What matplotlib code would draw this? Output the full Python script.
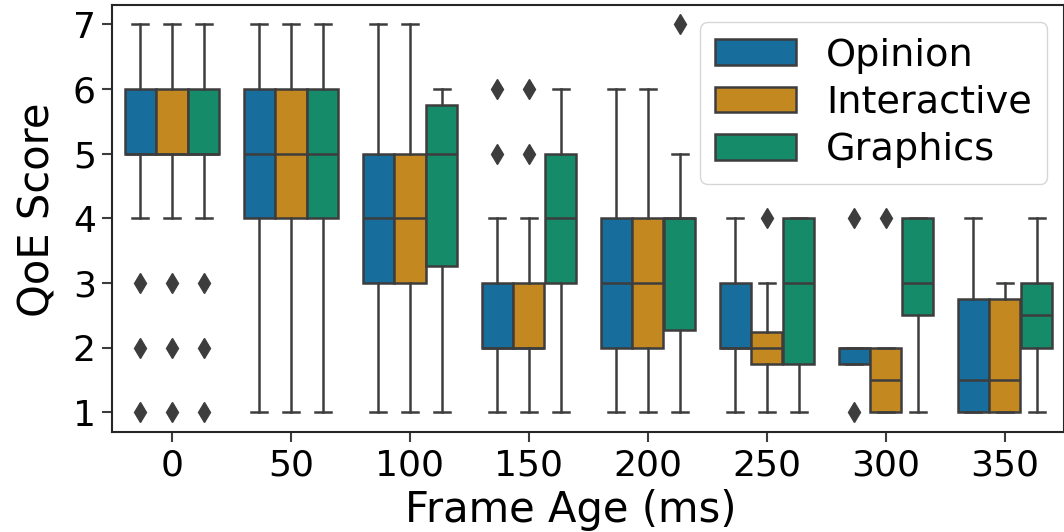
import colorsys

import matplotlib
matplotlib.use("Agg")
import matplotlib.pyplot as plt
from matplotlib.patches import Patch

# 箱线图统计量
frame_ages = ["0", "50", "100", "150", "200", "250", "300", "350"]
groups = ["Opinion", "Interactive", "Graphics"]

opinion_q1 = [5, 4, 3, 2, 2, 2, 1.75, 1]
opinion_med = [5, 5, 4, 2, 3, 2, 2, 1.5]
opinion_q3 = [6, 6, 5, 3, 4, 3, 2, 2.75]
opinion_lo = [4, 1, 1, 1, 1, 1, 1.75, 1]
opinion_hi = [7, 7, 7, 4, 6, 4, 2, 4]
opinion_fliers = [[1, 2, 3], [], [], [5, 6], [], [], [1, 4], []]

interactive_q1 = [5, 4, 3, 2, 2, 1.75, 1, 1]
interactive_med = [5, 5, 4, 2, 3, 2, 1.5, 1.5]
interactive_q3 = [6, 6, 5, 3, 4, 2.25, 2, 2.75]
interactive_lo = [4, 1, 1, 1, 1, 1, 1, 1]
interactive_hi = [7, 7, 7, 4, 6, 3, 2, 3]
interactive_fliers = [[1, 2, 3], [], [], [5, 6], [], [4], [4], []]

graphics_q1 = [5, 4, 3.27, 3, 2.27, 1.75, 2.5, 2]
graphics_med = [5, 5, 5, 4, 4, 3, 3, 2.5]
graphics_q3 = [6, 6, 5.75, 5, 4, 4, 4, 3]
graphics_lo = [4, 1, 1, 1, 1, 1, 1, 1]
graphics_hi = [7, 7, 6, 6, 5, 4, 4, 4]
graphics_fliers = [[1, 2, 3], [], [], [], [7], [], [], []]

stats_by_group = [
    (opinion_q1, opinion_med, opinion_q3, opinion_lo, opinion_hi, opinion_fliers),
    (interactive_q1, interactive_med, interactive_q3, interactive_lo, interactive_hi, interactive_fliers),
    (graphics_q1, graphics_med, graphics_q3, graphics_lo, graphics_hi, graphics_fliers),
]


def desaturate(hex_color, prop=0.75):
    r, g, b = matplotlib.colors.to_rgb(hex_color)
    h, l, s = colorsys.rgb_to_hls(r, g, b)
    return colorsys.hls_to_rgb(h, l, s * prop)


colors = [desaturate(c) for c in ["#0173B2", "#DE8F05", "#029E73"]]
gray = "#3d3d3d"

fig = plt.figure(figsize=(10.64, 5.32), dpi=100)
ax = fig.add_axes([0.1057, 0.1885, 0.8947, 0.802])

n = len(groups)
box_w = 0.8 / n
lw = 1.8
for gi, (q1, med, q3, lo, hi, fl) in enumerate(stats_by_group):
    offset = (gi - (n - 1) / 2) * box_w
    bstats = []
    for i in range(len(frame_ages)):
        bstats.append(dict(q1=q1[i], med=med[i], q3=q3[i],
                           whislo=lo[i], whishi=hi[i], fliers=fl[i]))
    pos = [i + offset for i in range(len(frame_ages))]
    ax.bxp(bstats, positions=pos, widths=box_w * 0.98, patch_artist=True,
           showfliers=True, manage_ticks=False,
           boxprops=dict(facecolor=colors[gi], edgecolor=gray, linewidth=lw),
           medianprops=dict(color=gray, linewidth=lw),
           whiskerprops=dict(color=gray, linewidth=lw),
           capprops=dict(color=gray, linewidth=lw),
           capwidths=box_w * 0.5,
           flierprops=dict(marker="d", markerfacecolor=gray, markeredgecolor=gray,
                           markersize=10, linestyle="none"))

ax.set_xlim(-0.5, len(frame_ages) - 0.5)
ax.set_ylim(0.7, 7.3)
ax.set_xticks(range(len(frame_ages)))
ax.set_xticklabels(frame_ages)
ax.set_yticks(range(1, 8))

ax.tick_params(labelsize=26, length=7, width=1.5, pad=5, color=gray)
for sp in ax.spines.values():
    sp.set_linewidth(1.5)
    sp.set_color("#262626")

ax.set_xlabel("Frame Age (ms)", fontsize=30)
ax.set_ylabel("QoE Score", fontsize=30)
# 原图的坐标轴标题略偏左/偏上
ax.xaxis.set_label_coords(0.481, -0.134)
ax.yaxis.set_label_coords(-0.057, 0.52)

handles = [Patch(facecolor=colors[i], edgecolor=gray, linewidth=lw, label=groups[i])
           for i in range(n)]
ax.legend(handles=handles, loc="upper right", fontsize=27.5, handlelength=2.1,
          handleheight=0.65, borderaxespad=0.45, labelspacing=0.3,
          handletextpad=0.8, borderpad=0.4)

fig.savefig("out.png", dpi=100)
